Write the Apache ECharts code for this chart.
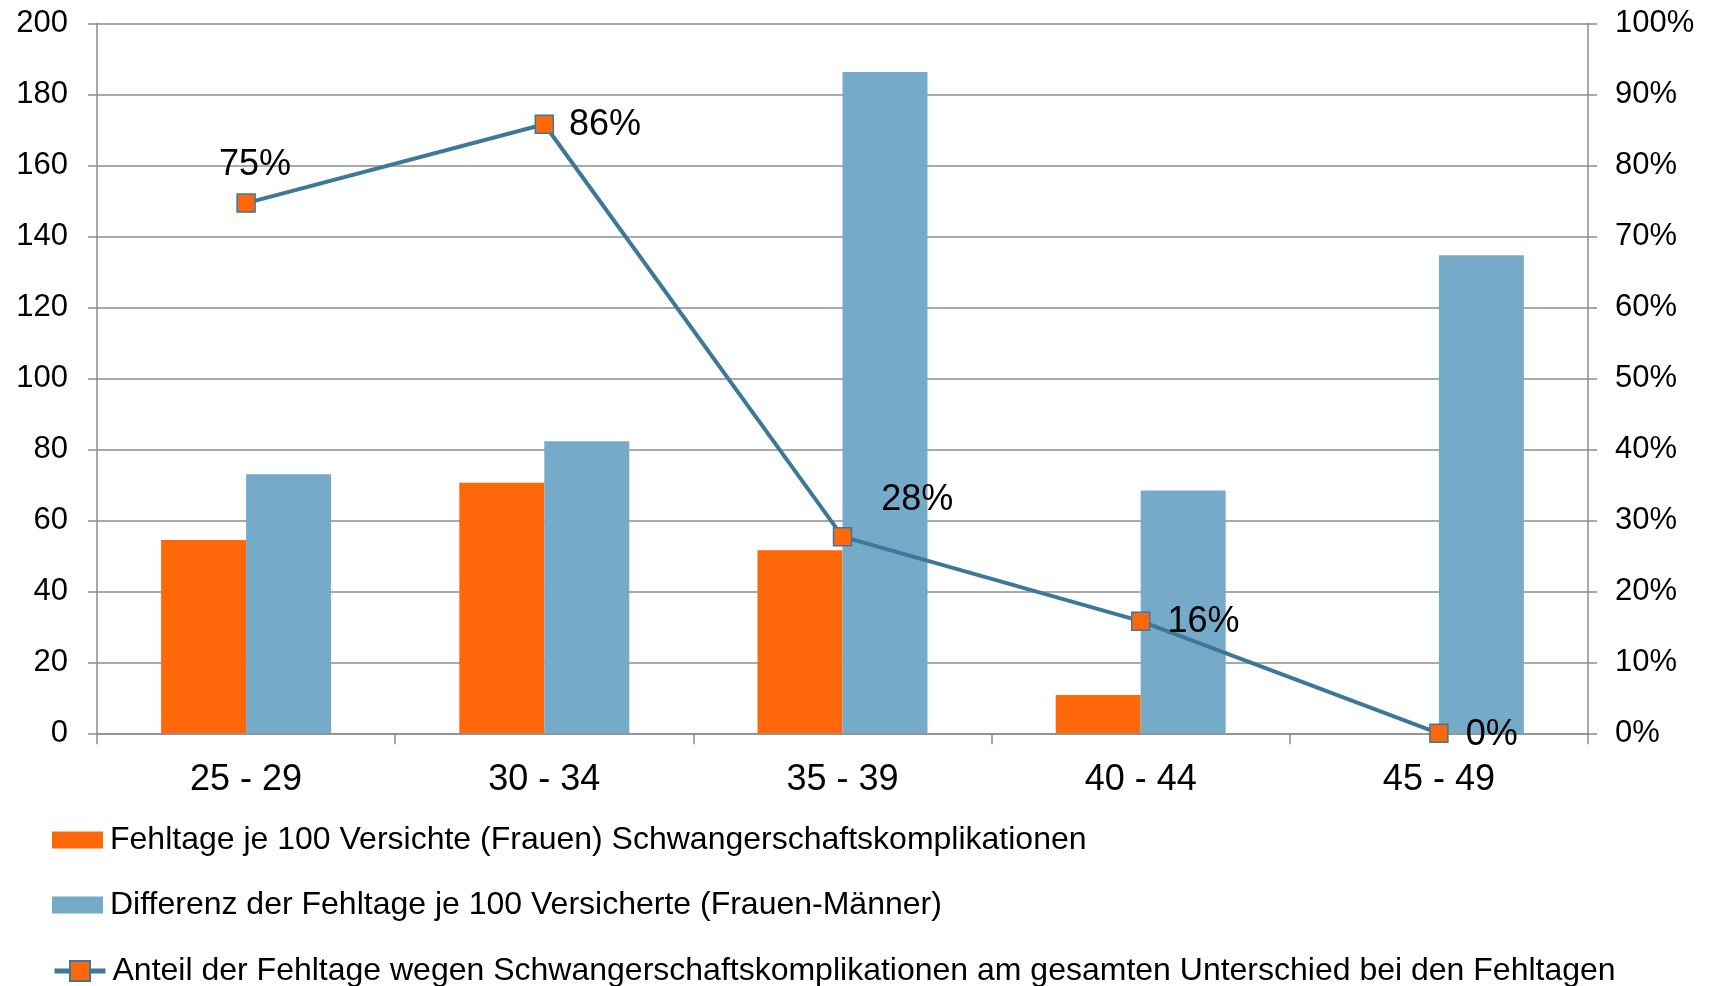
<!DOCTYPE html>
<html>
<head>
<meta charset="utf-8">
<script src="https://cdn.jsdelivr.net/npm/echarts@6/dist/echarts.min.js"></script>
<style>
html,body{margin:0;padding:0;background:#fff;}
#c{width:1710px;height:986px;}
</style>
</head>
<body>
<div id="c"></div>
<script>
var categories = ['25 - 29', '30 - 34', '35 - 39', '40 - 44', '45 - 49'];
var fehltageFrauen = [54.5, 70.6, 51.6, 10.8, 0];
var differenz = [73.0, 82.3, 186.3, 68.4, 134.7];
var anteil = [74.7, 85.8, 27.7, 15.8, 0];
var seriesNames = [
  'Fehltage je 100 Versichte (Frauen) Schwangerschaftskomplikationen',
  'Differenz der Fehltage je 100 Versicherte (Frauen-Männer)',
  'Anteil der Fehltage wegen Schwangerschaftskomplikationen am gesamten Unterschied bei den Fehltagen'
];

var FONT = 'Liberation Sans, Arial, Helvetica, sans-serif';
var ORANGE = '#FF670B';
var BLUE = '#75ABC9';
var LINE = '#3E7898';
var GRID = '#8C8C8C';

var labelCfg = [
  {position: 'top', distance: 10, offset: [9, 0]},
  {position: 'right', distance: 15, offset: [0, 1]},
  {position: 'right', distance: 29, offset: [0, -37]},
  {position: 'right', distance: 17, offset: [0, 1]},
  {position: 'right', distance: 17, offset: [0, 2]}
];
var lineData = anteil.map(function (v, i) {
  return {value: v, label: labelCfg[i]};
});

function legendCfg(name, top, itemHeight, extra) {
  var l = {
    orient: 'vertical',
    left: 52,
    top: top,
    padding: 0,
    itemWidth: 51,
    itemHeight: itemHeight,
    itemGap: 0,
    textStyle: {fontFamily: FONT, fontSize: 32, color: '#000', padding: [0, 0, 0, 2]},
    data: [name]
  };
  for (var k in extra) l[k] = extra[k];
  return l;
}

var chart = echarts.init(document.getElementById('c'));
chart.setOption({
  animation: false,
  backgroundColor: '#fff',
  textStyle: {fontFamily: FONT},
  grid: {left: 97, right: 122, top: 23.5, bottom: 252.7, containLabel: false},
  legend: [
    legendCfg(seriesNames[0], 824, 17, {icon: 'rect'}),
    legendCfg(seriesNames[1], 889, 17, {icon: 'rect'}),
    legendCfg(seriesNames[2], 955, 25, {lineStyle: {width: 5}})
  ],
  xAxis: {
    type: 'category',
    data: categories,
    axisLine: {lineStyle: {color: GRID, width: 1.5}},
    axisTick: {show: true, length: 11, lineStyle: {color: GRID, width: 1.5}},
    axisLabel: {fontFamily: FONT, fontSize: 36, color: '#000', margin: 29}
  },
  yAxis: [
    {
      type: 'value', min: 0, max: 200, interval: 20,
      axisLine: {show: true, lineStyle: {color: GRID, width: 1.5}},
      axisTick: {show: true, length: 9, lineStyle: {color: GRID, width: 1.5}},
      splitLine: {lineStyle: {color: GRID, width: 1.5}},
      axisLabel: {fontFamily: FONT, fontSize: 31, color: '#000', margin: 29}
    },
    {
      type: 'value', min: 0, max: 100, interval: 10,
      axisLine: {show: true, lineStyle: {color: GRID, width: 1.5}},
      axisTick: {show: true, length: 9, lineStyle: {color: GRID, width: 1.5}},
      splitLine: {show: false},
      axisLabel: {fontFamily: FONT, fontSize: 31, color: '#000', margin: 27, formatter: '{value}%'}
    }
  ],
  series: [
    {
      name: seriesNames[0], type: 'bar', data: fehltageFrauen,
      barWidth: 85, barGap: '0%',
      itemStyle: {color: ORANGE}
    },
    {
      name: seriesNames[1], type: 'bar', data: differenz,
      barWidth: 85, barGap: '0%',
      itemStyle: {color: BLUE}
    },
    {
      name: seriesNames[2], type: 'line', yAxisIndex: 1, data: lineData,
      symbol: 'rect', symbolSize: 18,
      lineStyle: {color: LINE, width: 4},
      itemStyle: {color: ORANGE, borderColor: LINE, borderWidth: 1.5},
      z: 5,
      label: {
        show: true, color: '#000', fontFamily: FONT, fontSize: 36,
        formatter: function (p) { return Math.round(p.value) + '%'; }
      }
    }
  ]
});
</script>
</body>
</html>
